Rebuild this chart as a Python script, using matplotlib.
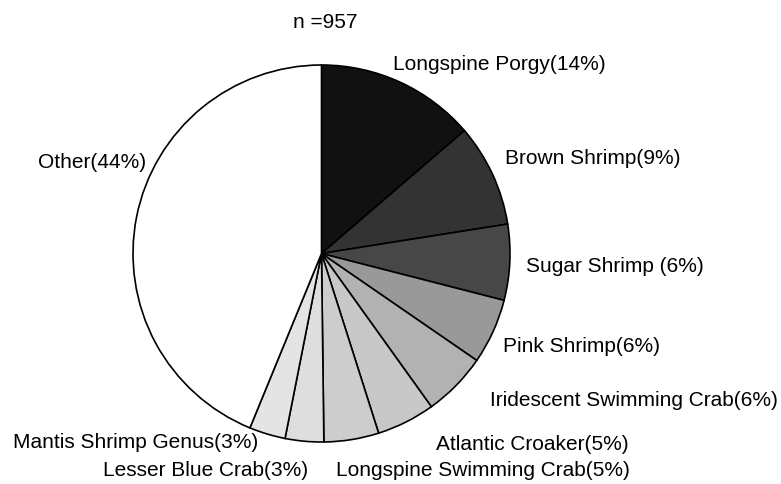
import matplotlib
matplotlib.use("Agg")
import matplotlib.pyplot as plt

# ---- data ----
species = ["Longspine Porgy", "Brown Shrimp", "Sugar Shrimp", "Pink Shrimp",
           "Iridescent Swimming Crab", "Atlantic Croaker", "Longspine Swimming Crab",
           "Lesser Blue Crab", "Mantis Shrimp Genus", "Other"]
percent_values = [13.7, 8.8, 6.5, 5.6, 5.5, 5.0, 4.7, 3.3, 3.1, 43.8]
label_texts = ["Longspine Porgy(14%)", "Brown Shrimp(9%)", "Sugar Shrimp (6%)",
               "Pink Shrimp(6%)", "Iridescent Swimming Crab(6%)", "Atlantic Croaker(5%)",
               "Longspine Swimming Crab(5%)", "Lesser Blue Crab(3%)",
               "Mantis Shrimp Genus(3%)", "Other(44%)"]
n_total = 957

# ---- style / layout ----
colors = ["#111111", "#333333", "#474747", "#999999", "#b2b2b2", "#c8c8c8",
          "#cdcdcd", "#dedede", "#e4e4e4", "#ffffff"]
W, H = 781, 484
center_px = (321.5, 253.5)
radius_px = 188.5
# label anchors in pixel coords (x, y_center, horizontal alignment)
label_layout = [(393, 65, "left"), (505, 158, "left"), (526, 267, "left"),
                (503, 347, "left"), (490, 400, "left"), (436, 444, "left"),
                (336, 471, "left"), (308, 471, "right"), (258, 443, "right"),
                (146, 163, "right")]

plt.rcParams['font.family'] = ['Liberation Sans', 'DejaVu Sans']

fig = plt.figure(figsize=(W / 100, H / 100), dpi=100)
ax = fig.add_axes([0, 0, 1, 1])
ax.set_xlim(0, W)
ax.set_ylim(0, H)
ax.set_aspect('equal')
ax.axis('off')

ax.pie(percent_values, colors=colors, startangle=90, counterclock=False,
       center=(center_px[0], H - center_px[1]), radius=radius_px,
       wedgeprops=dict(edgecolor="black", linewidth=1.2), frame=True)
ax.set_xlim(0, W)
ax.set_ylim(0, H)
ax.axis('off')

for txt, (x, y, ha) in zip(label_texts, label_layout):
    ax.text(x, H - y, txt, ha=ha, va='center', fontsize=15, color='black')

ax.text(325, H - 23, f"n ={n_total}", ha='center', va='center', fontsize=15)

fig.savefig("out.png", dpi=100)
